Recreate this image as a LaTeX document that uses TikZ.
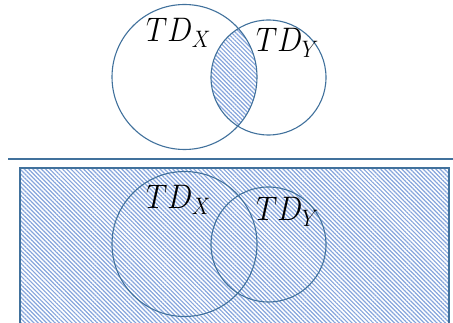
\documentclass[tikz,border=0pt]{standalone}
\usepackage{fix-cm}
\usetikzlibrary{patterns.meta}
\definecolor{edgeblue}{HTML}{41719C}
\definecolor{hatchblue}{HTML}{86A5DC}
\newcommand{\setname}[1]{\scalebox{0.88}[1]{$TD_{#1}$}}
\tikzset{
  setline/.style={draw=edgeblue, line width=1.1pt},
  hatched/.style={pattern={Lines[angle=-45,distance=3pt,line width=1.2pt]}, pattern color=hatchblue},
  setlabel/.style={inner sep=0pt, anchor=base west, font=\fontsize{34}{40}\selectfont},
}
\begin{document}
\begin{tikzpicture}[x=1pt,y=-1pt]
  \useasboundingbox (0,0) rectangle (453,323);

  % upper Venn diagram: only the intersection is shaded
  \begin{scope}
    \clip (184.5,77) circle (72.5);
    \fill[hatched] (268.5,77.5) circle (57.5);
  \end{scope}
  \draw[setline] (184.5,77) circle (72.5);
  \draw[setline] (268.5,77.5) circle (57.5);
  \node[setlabel] (tx) at (146,42) {\setname{X}};
  \node[setlabel] (ty) at (256,52) {\setname{Y}};

  % separator
  \coordinate (sepL) at (8,159);
  \coordinate (sepR) at (453,159);
  \draw[setline] (sepL) -- (sepR);

  % lower Venn diagram: the whole universe is shaded
  \draw[setline, hatched] (20,168) rectangle (449,340);
  \draw[setline] (184.5,244) circle (72.5);
  \draw[setline] (268.5,244.5) circle (57.5);
  \node[setlabel] (bx) at (146,209) {\setname{X}};
  \node[setlabel] (by) at (256,221) {\setname{Y}};
\end{tikzpicture}
\end{document}
